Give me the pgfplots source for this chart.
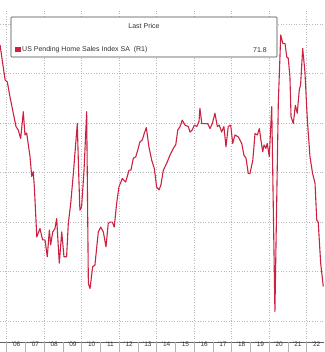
\documentclass[border=0pt]{standalone}
\usepackage{pgfplots}
\pgfplotsset{compat=1.18}
\usepackage{fontspec}
\setmainfont{Liberation Sans}
\definecolor{bbred}{RGB}{204,34,66}
\definecolor{gridc}{RGB}{185,185,185}
\definecolor{txt}{RGB}{50,50,50}
\pgfplotstableread{
year value
2005.65 125.8
2005.92 118.7
2006.04 118.3
2006.18 115.3
2006.50 109.3
2006.62 108.6
2006.75 106.9
2006.89 112.3
2006.98 107.6
2007.07 108.0
2007.25 103.2
2007.34 99.2
2007.42 100.2
2007.48 97.1
2007.61 87.0
2007.78 88.7
2007.92 86.4
2008.05 86.4
2008.17 83.0
2008.28 88.4
2008.35 85.4
2008.46 88.0
2008.58 88.7
2008.67 90.7
2008.81 81.7
2008.94 88.0
2009.06 83.0
2009.20 83.0
2009.29 89.7
2009.42 93.8
2009.56 99.8
2009.77 109.9
2009.85 99.2
2009.91 92.4
2010.00 93.1
2010.13 100.5
2010.27 112.3
2010.36 77.6
2010.45 76.6
2010.59 81.0
2010.71 81.3
2010.89 88.0
2011.02 89.0
2011.16 88.0
2011.30 85.0
2011.42 89.7
2011.51 90.0
2011.64 90.0
2011.74 89.0
2011.87 93.8
2011.99 97.1
2012.17 98.8
2012.35 98.1
2012.53 100.5
2012.63 100.5
2012.76 102.9
2012.89 103.2
2012.99 104.5
2013.11 106.2
2013.24 106.6
2013.34 107.9
2013.45 109.1
2013.52 107.2
2013.59 105.2
2013.74 102.5
2013.88 100.8
2014.00 97.1
2014.13 96.5
2014.23 97.5
2014.36 100.5
2014.54 101.9
2014.71 103.5
2014.84 104.5
2014.94 105.2
2015.02 105.6
2015.13 108.6
2015.25 109.3
2015.37 110.6
2015.51 109.6
2015.69 109.3
2015.78 108.2
2015.90 108.6
2016.01 109.6
2016.14 109.3
2016.26 110.3
2016.31 113.0
2016.41 109.9
2016.54 109.9
2016.72 109.9
2016.85 108.9
2016.97 109.9
2017.11 112.0
2017.24 109.3
2017.34 109.6
2017.47 108.2
2017.59 109.3
2017.70 105.2
2017.82 109.3
2017.95 109.6
2018.06 105.9
2018.18 107.6
2018.36 107.2
2018.54 105.9
2018.66 103.5
2018.77 102.9
2018.89 99.8
2018.98 99.8
2019.13 102.5
2019.25 107.9
2019.37 107.6
2019.48 108.9
2019.55 106.9
2019.66 104.2
2019.73 105.6
2019.83 104.9
2019.90 105.9
2020.01 103.2
2020.14 113.3
2020.31 71.9
2020.49 114.0
2020.62 127.8
2020.73 126.1
2020.85 126.1
2020.94 123.4
2021.02 123.1
2021.11 119.4
2021.17 111.3
2021.29 109.9
2021.40 113.6
2021.50 112.0
2021.61 116.7
2021.68 117.7
2021.79 125.1
2021.91 120.4
2022.04 110.6
2022.18 103.2
2022.32 99.8
2022.45 97.8
2022.54 90.4
2022.62 90.0
2022.75 81.7
2022.89 77.0
}\pending
\begin{document}
\begin{tikzpicture}[x=1pt,y=1pt]
\useasboundingbox (0,0) rectangle (324,352);
\begin{axis}[
  at={(0,20)}, anchor=south west,
  scale only axis, width=324pt, height=332pt,
  xmin=2005.648, xmax=2022.928,
  ymin=65.76, ymax=132.83,
  axis x line*=bottom, axis y line*=left,
  x axis line style={-, draw=gray!75!black, line width=0.6pt},
  y axis line style={draw=none},
  ytick={70,80,...,130}, yticklabels={}, ytick style={draw=none},
  ymajorgrids,
  major grid style={gridc, line width=0.5pt, dash pattern=on 1pt off 1.6pt},
  xtick={2005.5,2006.5,...,2022.5},
  xticklabels={’05,’06,’07,’08,’09,’10,’11,’12,’13,’14,’15,’16,’17,’18,’19,’20,’21,’22},
  major x tick style={draw=none},
  xticklabel style={anchor=center, yshift=-2.5pt, font=\fontsize{6.5}{7}\selectfont, text=txt},
  minor xtick={2006,2008,...,2022},
  xminorgrids,
  minor x tick style={draw=none},
  minor grid style={gridc, line width=0.5pt, dash pattern=on 1pt off 1.6pt},
  extra x ticks={2006,2007,...,2022},
  extra x tick labels={},
  extra x tick style={grid=none, tick align=outside, major tick length=20pt,
     major x tick style={draw=gray!60, line width=0.5pt}},
  clip=true,
]
\addplot[bbred, line width=1.1pt, line join=round] table[x=year, y=value] {\pending};
\end{axis}
\draw[gray!55!black, fill=white, line width=0.6pt, rounded corners=0.8pt] (11,295) rectangle (277,335);
\node[text=txt, font=\fontsize{7}{8}\selectfont] at (144,326) {Last Price};
\fill[bbred] (15,299.5) rectangle (20.5,305);
\node[anchor=west, inner sep=0pt, text=txt, font=\fontsize{7}{8}\selectfont] at (22,302) {US Pending Home Sales Index SA\ \ (R1)};
\node[anchor=east, inner sep=0pt, text=txt, font=\fontsize{7}{8}\selectfont] at (267,302) {71.8};
\end{tikzpicture}
\end{document}
